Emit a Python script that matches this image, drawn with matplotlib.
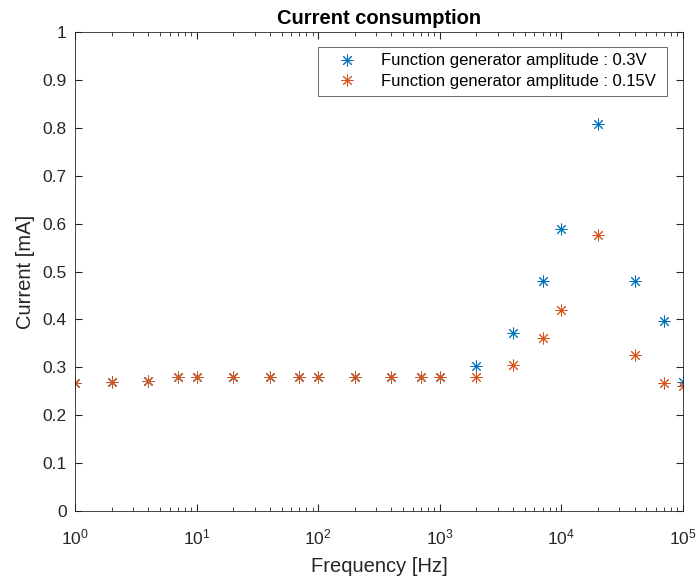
import matplotlib
matplotlib.use("Agg")
import matplotlib.pyplot as plt

plt.rcParams['font.family'] = ['Liberation Sans', 'DejaVu Sans']
plt.rcParams['mathtext.fontset'] = 'custom'
plt.rcParams['mathtext.rm'] = 'Liberation Sans'

freq = [1, 2, 4, 7, 10, 20, 40, 70, 100, 200, 400, 700, 1000, 2000, 4000, 7000,
        10000, 20000, 40000, 70000, 100000]
cur_03 = [0.267, 0.269, 0.271, 0.279, 0.280, 0.280, 0.280, 0.280, 0.280, 0.280, 0.280,
          0.280, 0.280, 0.303, 0.371, 0.480, 0.588, 0.807, 0.480, 0.396, 0.270]
cur_015 = [0.267, 0.269, 0.271, 0.279, 0.280, 0.280, 0.280, 0.280, 0.280, 0.280, 0.280,
           0.280, 0.280, 0.280, 0.304, 0.361, 0.420, 0.577, 0.325, 0.267, 0.261]
labels = ['Function generator amplitude : 0.3V', 'Function generator amplitude : 0.15V']

asterisk = (8, 2, 0)

fig = plt.figure(figsize=(6.97, 5.79), dpi=100)
ax = fig.add_axes([75/697, 68/579, 608/697, 479/579])
ax.plot(freq, cur_03, linestyle='none', marker=asterisk, color='#0072BD', markersize=8.5,
        markeredgewidth=0.7, label=labels[0])
ax.plot(freq, cur_015, linestyle='none', marker=asterisk, color='#D95319', markersize=8.5,
        markeredgewidth=0.7, label=labels[1])
ax.set_xscale('log')
ax.set_xlim(1, 1e5)
ax.set_ylim(0, 1)
ax.set_yticks([i/10 for i in range(11)])
ax.set_yticklabels(['0', '0.1', '0.2', '0.3', '0.4', '0.5', '0.6', '0.7', '0.8', '0.9', '1'])
ax.tick_params(direction='in', which='both', top=True, right=True, labelsize=12.5,
               colors='#262626', length=5)
ax.tick_params(which='minor', length=3)
ax.tick_params(axis='x', which='major', pad=12)
ax.tick_params(axis='y', which='major', pad=6)
for s in ax.spines.values():
    s.set_color('#262626')
    s.set_linewidth(0.6)
ax.set_xlabel('Frequency [Hz]', fontsize=14.5, color='#262626', labelpad=7)
ax.set_ylabel('Current [mA]', fontsize=14.5, color='#262626', labelpad=5)
ax.set_title('Current consumption', fontsize=14.5, fontweight='bold', pad=6)
leg = ax.legend(loc='upper left', bbox_to_anchor=(243/608, (511-46.7)/479, 349/608, 0),
                mode='expand', borderaxespad=0, fontsize=12, frameon=True, fancybox=False,
                edgecolor='#262626', handletextpad=0.7, handlelength=2.7,
                borderpad=0.4, labelspacing=0.35)
leg.get_frame().set_linewidth(0.6)
fig.savefig('out.png', dpi=100)
